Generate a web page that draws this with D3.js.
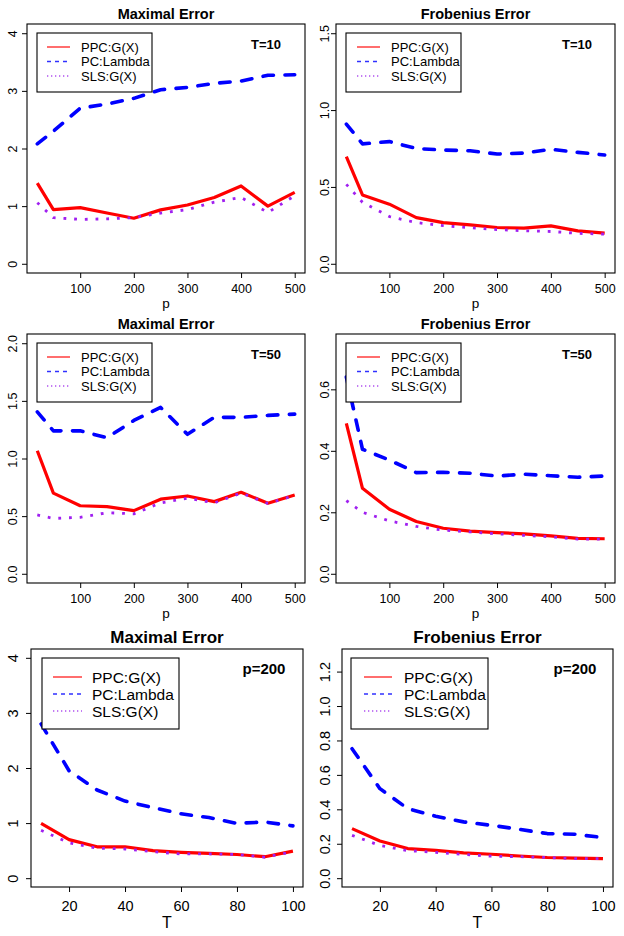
<!DOCTYPE html>
<html><head><meta charset="utf-8">
<script src="https://cdn.jsdelivr.net/npm/d3@7"></script>
<style>
body{margin:0;background:#fff}
svg{display:block}
text{font-family:"Liberation Sans",Arial,Helvetica,sans-serif;fill:#000}
</style>
</head><body>
<svg id="c" width="624" height="936"></svg>
<script>
// ---- data ----
const pVals = [20,50,100,150,200,250,300,350,400,450,500];
const tVals = [10,20,30,40,50,60,70,80,90,100];
const seriesNames = ["PPC:G(X)","PC:Lambda","SLS:G(X)"];
const pTicks = [100,200,300,400,500];
const tTicks = [20,40,60,80,100];

const maxT10_PPC = [1.40,0.94,0.975,0.88,0.79,0.935,1.02,1.15,1.35,1.00,1.24];
const maxT10_PC  = [2.08,2.30,2.70,2.77,2.87,3.02,3.06,3.13,3.17,3.27,3.28];
const maxT10_SLS = [1.06,0.80,0.77,0.78,0.80,0.88,0.94,1.07,1.15,0.89,1.18];

const frobT10_PPC = [0.697,0.448,0.388,0.30,0.268,0.253,0.236,0.232,0.247,0.214,0.20];
const frobT10_PC  = [0.909,0.78,0.795,0.75,0.74,0.735,0.714,0.72,0.745,0.725,0.708];
const frobT10_SLS = [0.517,0.40,0.307,0.268,0.248,0.235,0.222,0.215,0.21,0.198,0.193];

const maxT50_PPC = [1.067,0.70,0.59,0.583,0.548,0.647,0.675,0.626,0.707,0.612,0.684];
const maxT50_PC  = [1.405,1.24,1.24,1.18,1.33,1.443,1.21,1.357,1.357,1.374,1.385];
const maxT50_SLS = [0.51,0.48,0.49,0.53,0.52,0.615,0.655,0.615,0.70,0.61,0.68];

const frobT50_PPC = [0.489,0.278,0.21,0.17,0.148,0.139,0.134,0.13,0.123,0.115,0.114];
const frobT50_PC  = [0.64,0.405,0.37,0.329,0.33,0.327,0.318,0.324,0.319,0.314,0.318];
const frobT50_SLS = [0.238,0.20,0.172,0.154,0.142,0.136,0.13,0.125,0.12,0.113,0.113];

const maxP200_PPC = [0.995,0.70,0.57,0.57,0.50,0.47,0.45,0.43,0.39,0.49];
const maxP200_PC  = [2.8,1.95,1.6,1.4,1.28,1.17,1.10,0.995,1.02,0.95];
const maxP200_SLS = [0.87,0.64,0.545,0.53,0.48,0.44,0.44,0.43,0.38,0.48];

const frobP200_PPC = [0.288,0.216,0.172,0.162,0.147,0.139,0.129,0.12,0.117,0.114];
const frobP200_PC  = [0.752,0.52,0.404,0.36,0.327,0.307,0.284,0.259,0.255,0.236];
const frobP200_SLS = [0.249,0.19,0.16,0.15,0.138,0.128,0.125,0.12,0.114,0.113];

// ---- styles ----
const colors = ["#ff0000","#0000ff","#a020f0"];
const legColors = ["#ff2020","#3030ff","#b050f0"];
const svg = d3.select("#c");
svg.append("rect").attr("width",624).attr("height",936).attr("fill","#fff");

const small = {tick:12.5, title:14.5, xlab:13.5, leg:13, note:13, legLines:[14,28.5,43], legText:4.5};
const large = {tick:14.5, title:17, xlab:16, leg:15.5, note:15, legLines:[19,36,53], legText:5.5};

function smallLayout(col,row){
  const dy = row*310;
  if(col===0) return {box:[27,24+dy,305,273+dy], ylabX:17.3, xtickY:292.7+dy, xlabY:308+dy, titleY:19.3+dy,
    leg:[37,33+dy,152,92+dy], samp:[47,70], legTx:81, noteX:266, noteY:49.3+dy, f:small};
  return {box:[336,24+dy,615,273+dy], ylabX:328.7, xtickY:292.7+dy, xlabY:308+dy, titleY:19.3+dy,
    leg:[346,33+dy,461,92+dy], samp:[357,380], legTx:391, noteX:577, noteY:49.3+dy, f:small};
}
function largeLayout(col){
  if(col===0) return {box:[31,649,303,887], ylabX:18, xtickY:910.7, xlabY:928.3, titleY:643.3,
    leg:[42,658,179,729], samp:[53,82], legTx:92, noteX:264, noteY:673.5, f:large};
  return {box:[342,649,613,887], ylabX:329.5, xtickY:910.7, xlabY:928.3, titleY:643.3,
    leg:[351,658,488,729], samp:[364,392], legTx:404, noteX:575, noteY:673.5, f:large};
}

const panels = [
  {title:"Maximal Error", note:"T=10", xs:pVals, xTicks:pTicks, xlab:"p", ylim:[0,4], yTicks:[0,1,2,3,4], fmt:d3.format("d"),
   data:[maxT10_PPC,maxT10_PC,maxT10_SLS], L:smallLayout(0,0)},
  {title:"Frobenius Error", note:"T=10", xs:pVals, xTicks:pTicks, xlab:"p", ylim:[0,1.5], yTicks:[0,0.5,1,1.5], fmt:d3.format(".1f"),
   data:[frobT10_PPC,frobT10_PC,frobT10_SLS], L:smallLayout(1,0)},
  {title:"Maximal Error", note:"T=50", xs:pVals, xTicks:pTicks, xlab:"p", ylim:[0,2], yTicks:[0,0.5,1,1.5,2], fmt:d3.format(".1f"),
   data:[maxT50_PPC,maxT50_PC,maxT50_SLS], L:smallLayout(0,1)},
  {title:"Frobenius Error", note:"T=50", xs:pVals, xTicks:pTicks, xlab:"p", ylim:[0,0.75], yTicks:[0,0.2,0.4,0.6], fmt:d3.format(".1f"),
   data:[frobT50_PPC,frobT50_PC,frobT50_SLS], L:smallLayout(1,1)},
  {title:"Maximal Error", note:"p=200", xs:tVals, xTicks:tTicks, xlab:"T", ylim:[0,4], yTicks:[0,1,2,3,4], fmt:d3.format("d"),
   data:[maxP200_PPC,maxP200_PC,maxP200_SLS], L:largeLayout(0)},
  {title:"Frobenius Error", note:"p=200", xs:tVals, xTicks:tTicks, xlab:"T", ylim:[0,1.28], yTicks:[0,0.2,0.4,0.6,0.8,1.0,1.2], fmt:d3.format(".1f"),
   data:[frobP200_PPC,frobP200_PC,frobP200_SLS], L:largeLayout(1)}
];

function padded(lo,hi){const p=(hi-lo)*0.04;return [lo-p,hi+p];}

const lineStyles = [
  {w:3.2, dash:null, cap:"butt"},
  {w:3.6, dash:"10.5,11.5", cap:"round"},
  {w:2.8, dash:"2.8,7.9", cap:"butt"}
];
const legStyles = [
  {w:1.3, dash:null},
  {w:1.6, dash:"4,4"},
  {w:1.3, dash:"1.3,2.7"}
];

panels.forEach(P=>{
  const L = P.L, f = L.f;
  const [bx0,by0,bx1,by1] = L.box;
  const x = d3.scaleLinear().domain(padded(d3.min(P.xs),d3.max(P.xs))).range([bx0,bx1]);
  const y = d3.scaleLinear().domain(padded(P.ylim[0],P.ylim[1])).range([by1,by0]);
  const g = svg.append("g");

  // x axis
  const xa = g.append("g").attr("transform",`translate(0,${by1})`)
    .call(d3.axisBottom(x).tickValues(P.xTicks).tickSize(5).tickSizeOuter(0).tickFormat(d3.format("d")));
  xa.attr("font-size",null).attr("font-family",null);
  xa.select(".domain").remove();
  xa.selectAll(".tick line").attr("stroke","#000");
  xa.selectAll("text").attr("y", L.xtickY-by1).attr("dy",0).attr("font-size",f.tick).attr("fill","#000");

  // y axis
  const ya = g.append("g").attr("transform",`translate(${bx0},0)`)
    .call(d3.axisLeft(y).tickValues(P.yTicks).tickSize(5).tickSizeOuter(0).tickFormat(P.fmt));
  ya.attr("font-size",null).attr("font-family",null);
  ya.select(".domain").remove();
  ya.selectAll(".tick line").attr("stroke","#000");
  ya.selectAll("text").attr("transform","rotate(-90)").attr("x",0).attr("y",L.ylabX-bx0).attr("dy",0)
    .attr("text-anchor","middle").attr("font-size",f.tick).attr("fill","#000");

  // lines
  const clipId = "clip"+Math.round(bx0)+"_"+Math.round(by0);
  svg.append("clipPath").attr("id",clipId).append("rect").attr("x",bx0).attr("y",by0).attr("width",bx1-bx0).attr("height",by1-by0);
  const lg = g.append("g").attr("clip-path",`url(#${clipId})`);
  [0,1,2].forEach(i=>{
    const pts = P.xs.map((xv,j)=>[xv,P.data[i][j]]);
    const st = lineStyles[i];
    const path = lg.append("path").datum(pts)
      .attr("d", d3.line().x(d=>x(d[0])).y(d=>y(d[1])))
      .attr("fill","none").attr("stroke",colors[i]).attr("stroke-width",st.w)
      .attr("stroke-linecap",st.cap).attr("stroke-linejoin","round");
    if(st.dash) path.attr("stroke-dasharray",st.dash);
  });

  // box
  g.append("rect").attr("x",bx0).attr("y",by0).attr("width",bx1-bx0).attr("height",by1-by0)
    .attr("fill","none").attr("stroke","#000").attr("stroke-width",1.1);

  // title
  g.append("text").attr("x",(bx0+bx1)/2).attr("y",L.titleY).attr("text-anchor","middle")
    .attr("font-size",f.title).attr("font-weight","bold").text(P.title);
  // x label
  g.append("text").attr("x",(bx0+bx1)/2).attr("y",L.xlabY).attr("text-anchor","middle")
    .attr("font-size",f.xlab).text(P.xlab);
  // note
  g.append("text").attr("x",L.noteX).attr("y",L.noteY).attr("text-anchor","middle")
    .attr("font-size",f.note).attr("font-weight","bold").text(P.note);

  // legend
  const [lx0,ly0,lx1,ly1] = L.leg;
  g.append("rect").attr("x",lx0).attr("y",ly0).attr("width",lx1-lx0).attr("height",ly1-ly0)
    .attr("fill","#fff").attr("stroke","#000").attr("stroke-width",1.1);
  seriesNames.forEach((nm,i)=>{
    const ly = ly0 + f.legLines[i];
    const ln = g.append("line").attr("x1",L.samp[0]).attr("x2",L.samp[1]).attr("y1",ly).attr("y2",ly)
      .attr("stroke",legColors[i]).attr("stroke-width",legStyles[i].w);
    if(legStyles[i].dash) ln.attr("stroke-dasharray",legStyles[i].dash);
    g.append("text").attr("x",L.legTx).attr("y",ly+f.legText).attr("font-size",f.leg).text(nm);
  });
});
</script>
</body></html>
